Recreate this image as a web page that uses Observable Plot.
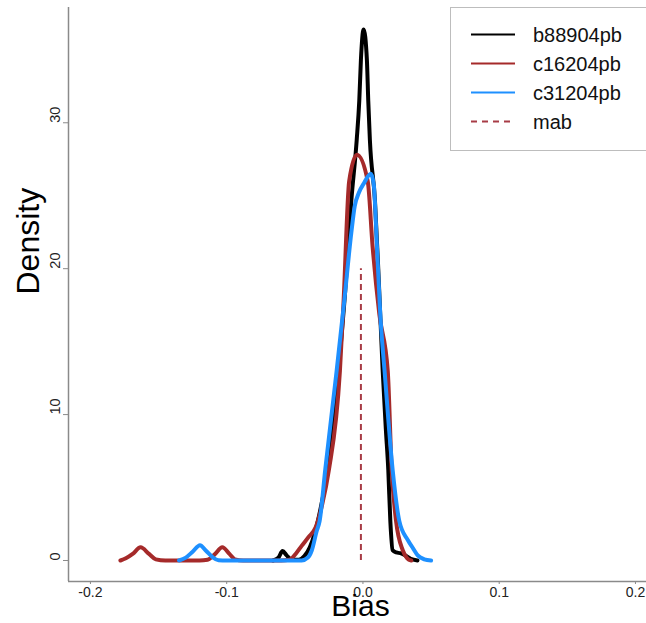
<!DOCTYPE html>
<html><head><meta charset="utf-8">
<script src="https://cdn.jsdelivr.net/npm/d3@7"></script>
<script src="https://cdn.jsdelivr.net/npm/@observablehq/plot@0.6"></script>
<style>
body{margin:0;background:#fff;}
#chart{position:relative;width:646px;height:623px;}
</style>
</head><body><div id="chart"></div>
<script>
// ---- data ----
const seriesNames = ["b88904pb", "c16204pb", "c31204pb"];
const seriesColors = ["#000000", "#A52A2A", "#1E90FF"];

// [bias, density]
const b88904pb = [
  [-0.066,0],[-0.062,0.2],[-0.059,0.65],[-0.056,0.35],[-0.052,0.05],[-0.047,0.05],
  [-0.043,0.3],[-0.039,0.9],[-0.035,2.0],[-0.031,3.6],[-0.026,6.2],[-0.022,9.2],
  [-0.018,13.0],[-0.013,18.5],[-0.0085,24.7],[-0.0046,28.8],[-0.0027,31.5],
  [-0.0015,34.3],[0.0005,36.4],[0.0029,34.3],[0.0039,31.5],[0.0051,28.8],
  [0.0088,24.7],[0.0117,19.0],[0.0145,13.0],[0.0168,9.0],[0.0186,6.2],
  [0.0201,2.7],[0.0218,0.7],[0.0245,0.55],[0.0275,0.5],[0.031,0.35],[0.035,0.12],[0.040,0]
];
const c16204pb = [
  [-0.178,0],[-0.174,0.15],[-0.169,0.45],[-0.1632,0.9],[-0.157,0.45],[-0.152,0.08],
  [-0.145,0],[-0.120,0],[-0.114,0.05],[-0.109,0.4],[-0.1032,0.9],[-0.098,0.45],
  [-0.094,0.08],[-0.088,0],[-0.060,0],[-0.054,0.05],[-0.049,0.5],[-0.045,1.0],
  [-0.040,1.6],[-0.0346,2.3],[-0.030,3.8],[-0.025,6.2],[-0.0169,13.0],[-0.0142,17.8],
  [-0.0101,26.0],[-0.0044,27.8],[0.0035,26.0],[0.0071,21.5],[0.012,16.9],
  [0.0182,13.0],[0.0211,6.2],[0.0243,2.7],[0.0292,0.7],[0.0325,0.15],[0.0355,0]
];
const c31204pb = [
  [-0.135,0],[-0.130,0.2],[-0.125,0.6],[-0.1196,1.05],[-0.115,0.65],[-0.110,0.2],
  [-0.106,0.02],[-0.100,0],[-0.045,0],[-0.0404,0.2],[-0.0375,0.7],[-0.034,2.0],
  [-0.0318,2.7],[-0.0277,6.2],[-0.0193,13.0],[-0.0137,17.8],[-0.0085,22.5],
  [-0.006,24.3],[-0.003,25.2],[0.001,25.9],[0.0058,26.5],[0.0079,25.8],
  [0.0103,21.5],[0.0127,16.9],[0.0162,12.6],[0.0218,6.2],[0.0267,2.7],
  [0.0329,1.4],[0.037,0.8],[0.0402,0.35],[0.045,0.08],[0.050,0]
];
const mab = -0.0015;      // mean absolute bias marker
const mabTop = 20;
const xTicks = [-0.2, -0.1, 0, 0.1, 0.2];
const yTicks = [0, 10, 20, 30];
const xDomain = [-0.2161, 0.2081];
const yDomain = [-1.44, 37.9];
const legendLabels = ["b88904pb", "c16204pb", "c31204pb", "mab"];

// ---- build table ----
const seriesData = [b88904pb, c16204pb, c31204pb];
const rows = [];
seriesData.forEach((arr, i) => arr.forEach(([x, y]) => rows.push({series: seriesNames[i], x, y})));

const font = "'Liberation Sans', Arial, Helvetica, sans-serif";
const axisGray = "#8a8a8a";
const mabColor = "#A83C46";

const plot = Plot.plot({
  width: 646, height: 623,
  marginLeft: 68, marginRight: 0, marginTop: 7, marginBottom: 42,
  x: {domain: xDomain},
  y: {domain: yDomain},
  color: {domain: seriesNames, range: seriesColors},
  style: {fontFamily: font, background: "#fff", color: "#222"},
  marks: [
    Plot.ruleY([yDomain[0]], {stroke: axisGray, strokeWidth: 1.5}),
    Plot.ruleX([xDomain[0]], {stroke: axisGray, strokeWidth: 1.5}),
    Plot.axisX(xTicks, {tickSize: 3, tickPadding: 3, fontSize: 14, tickFormat: d => d.toFixed(1),
      stroke: axisGray, fill: "#222", label: null}),
    Plot.axisY(yTicks, {tickSize: 5, tickFormat: () => "", stroke: axisGray, label: null}),
    Plot.text(yTicks, {y: d => d, text: d => String(d), frameAnchor: "left", dx: -13.5,
      rotate: -90, fontSize: 14.5, fill: "#222", lineAnchor: "middle"}),
    Plot.text(["Bias"], {frameAnchor: "bottom", dx: 3, dy: 25, lineAnchor: "middle",
      fontSize: 30, fill: "#000"}),
    Plot.text(["Density"], {frameAnchor: "left", dx: -40, rotate: -90, lineAnchor: "middle",
      fontSize: 32, fill: "#000"}),
    Plot.ruleX([mab], {y1: 0, y2: mabTop, stroke: mabColor, strokeWidth: 2, strokeDasharray: "6,4"}),
    Plot.line(rows, {x: "x", y: "y", z: "series", stroke: "series", curve: "monotone-x",
      strokeWidth: 4, strokeLinejoin: "round", strokeLinecap: "round"})
  ]
});

document.getElementById("chart").appendChild(plot);

// ---- legend (inside plot, top-right) ----
const svg = d3.select(plot);
const lg = svg.append("g").attr("font-family", font).attr("text-anchor", "start");
lg.append("rect").attr("x", 450.5).attr("y", 7.5).attr("width", 200).attr("height", 143)
  .attr("fill", "#fff").attr("stroke", "#bdbdbd").attr("stroke-width", 1);
const legendColors = [...seriesColors, mabColor];
legendLabels.forEach((lab, i) => {
  const y = 34.5 + i * 29;
  lg.append("line").attr("x1", 471).attr("x2", 515).attr("y1", y).attr("y2", y)
    .attr("stroke", legendColors[i]).attr("stroke-width", 2.2)
    .attr("stroke-dasharray", i === 3 ? "6,5" : null);
  lg.append("text").attr("x", 533).attr("y", y).attr("dy", "0.35em")
    .attr("text-anchor", "start")
    .attr("font-size", 20).attr("fill", "#111").text(lab);
});
</script>
</body></html>
